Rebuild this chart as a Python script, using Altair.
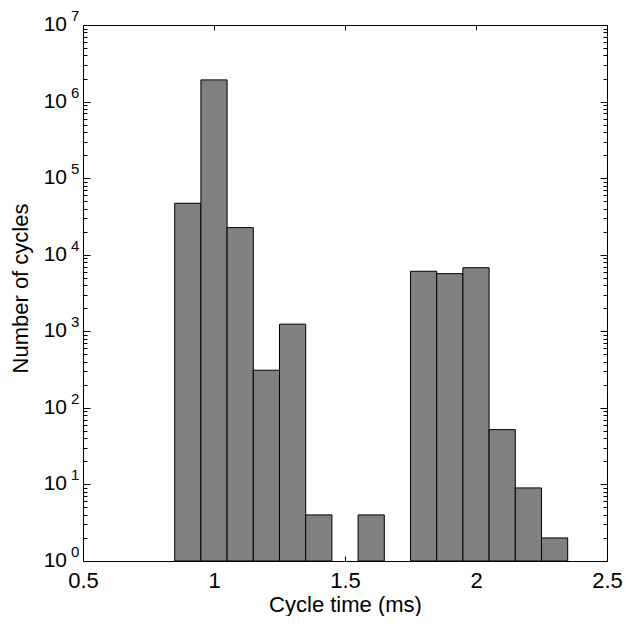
import altair as alt
import pandas as pd

# ---- data ----
bin_centers = [0.9, 1.0, 1.1, 1.2, 1.3, 1.4, 1.5, 1.6, 1.7, 1.8, 1.9, 2.0, 2.1, 2.2, 2.3]
counts = [47000, 1920000, 22600, 310, 1240, 4, 0, 4, 0, 6080, 5660, 6770, 52, 9, 2]
bin_width = 0.1
x_ticks = [0.5, 1.0, 1.5, 2.0, 2.5]
y_exponents = [0, 1, 2, 3, 4, 5, 6, 7]

df = pd.DataFrame({"center": bin_centers, "count": counts})
df = df[df["count"] > 0].copy()
df["start"] = df["center"] - bin_width / 2
df["end"] = df["center"] + bin_width / 2
df["base"] = 1

major = [10 ** e for e in y_exponents]
minor = [m * 10 ** e for e in y_exponents[:-1] for m in range(2, 10)]

lab = pd.DataFrame({
    "pos": [10 ** e for e in y_exponents],
    "ten": ["10"] * len(y_exponents),
    "sup": [str(e) for e in y_exponents],
})

W, H = 524, 536
FONT = "Liberation Sans"
xscale = alt.Scale(domain=[0.5, 2.5], nice=False, zero=False)
yscale = alt.Scale(type="log", domain=[1, 1e7], nice=False)


def tick_axis(orient, offset, values, size):
    return alt.Axis(orient=orient, offset=offset, values=values, tickSize=size,
                    ticks=True, labels=False, domain=False, grid=False, title="",
                    tickColor="#000", tickWidth=1, zindex=0)


bars = alt.Chart(df).mark_rect(fill="#808080", stroke="#000", strokeWidth=1).encode(
    x=alt.X("start:Q", scale=xscale, axis=alt.Axis(
        values=x_ticks, format="~g", ticks=False, tickSize=0, domain=False, grid=False,
        labelFlush=False, labelOverlap=False, labelPadding=9, labelFont=FONT,
        labelFontSize=22, labelColor="#000", title="Cycle time (ms)", titleFont=FONT,
        titleFontSize=22, titleFontWeight="normal", titleColor="#000",
        titleBaseline="alphabetic", titleY=50, titleX=W / 2)),
    x2="end:Q",
    y=alt.Y("count:Q", scale=yscale, axis=alt.Axis(
        values=major, ticks=False, tickSize=0, labels=False, domain=False, grid=False,
        title="Number of cycles", titleFont=FONT, titleFontSize=22,
        titleFontWeight="normal", titleColor="#000", titleAngle=270,
        titleAlign="center", titleBaseline="alphabetic", titleX=-56, titleY=263)),
    y2="base:Q",
)


def ghost(xaxis, yaxis):
    return alt.Chart(df).mark_rect(opacity=0).encode(
        x=alt.X("start:Q", scale=xscale, axis=xaxis),
        x2="end:Q",
        y=alt.Y("count:Q", scale=yscale, axis=yaxis),
        y2="base:Q",
    )


g1 = ghost(tick_axis("top", -H, x_ticks, 5), tick_axis("right", -W, major, 7))
g2 = ghost(tick_axis("bottom", -H, x_ticks, 5), tick_axis("left", -W, major, 7))
g3 = ghost(None, tick_axis("right", -W, minor, 4))
g4 = ghost(None, tick_axis("left", -W, minor, 4))

tens = alt.Chart(lab).mark_text(align="right", baseline="middle", font=FONT,
                                fontSize=21, color="#000").encode(
    x=alt.value(-16),
    y=alt.Y("pos:Q", scale=yscale, axis=None),
    text="ten:N",
)
sups = alt.Chart(lab).mark_text(align="left", baseline="middle", font=FONT,
                                fontSize=15, color="#000", dy=-9).encode(
    x=alt.value(-12),
    y=alt.Y("pos:Q", scale=yscale, axis=None),
    text="sup:N",
)

chart = alt.layer(bars, g1, g2, g3, g4, tens, sups).resolve_axis(
    x="independent", y="independent"
).properties(
    width=W, height=H,
    padding={"left": 75, "top": 17, "right": 16, "bottom": 55},
    autosize=alt.AutoSizeParams(type="none"),
    background="#ffffff",
).configure_view(stroke="#000", strokeWidth=1)

chart.save("out.html", embed_options={"renderer": "svg", "actions": False})
